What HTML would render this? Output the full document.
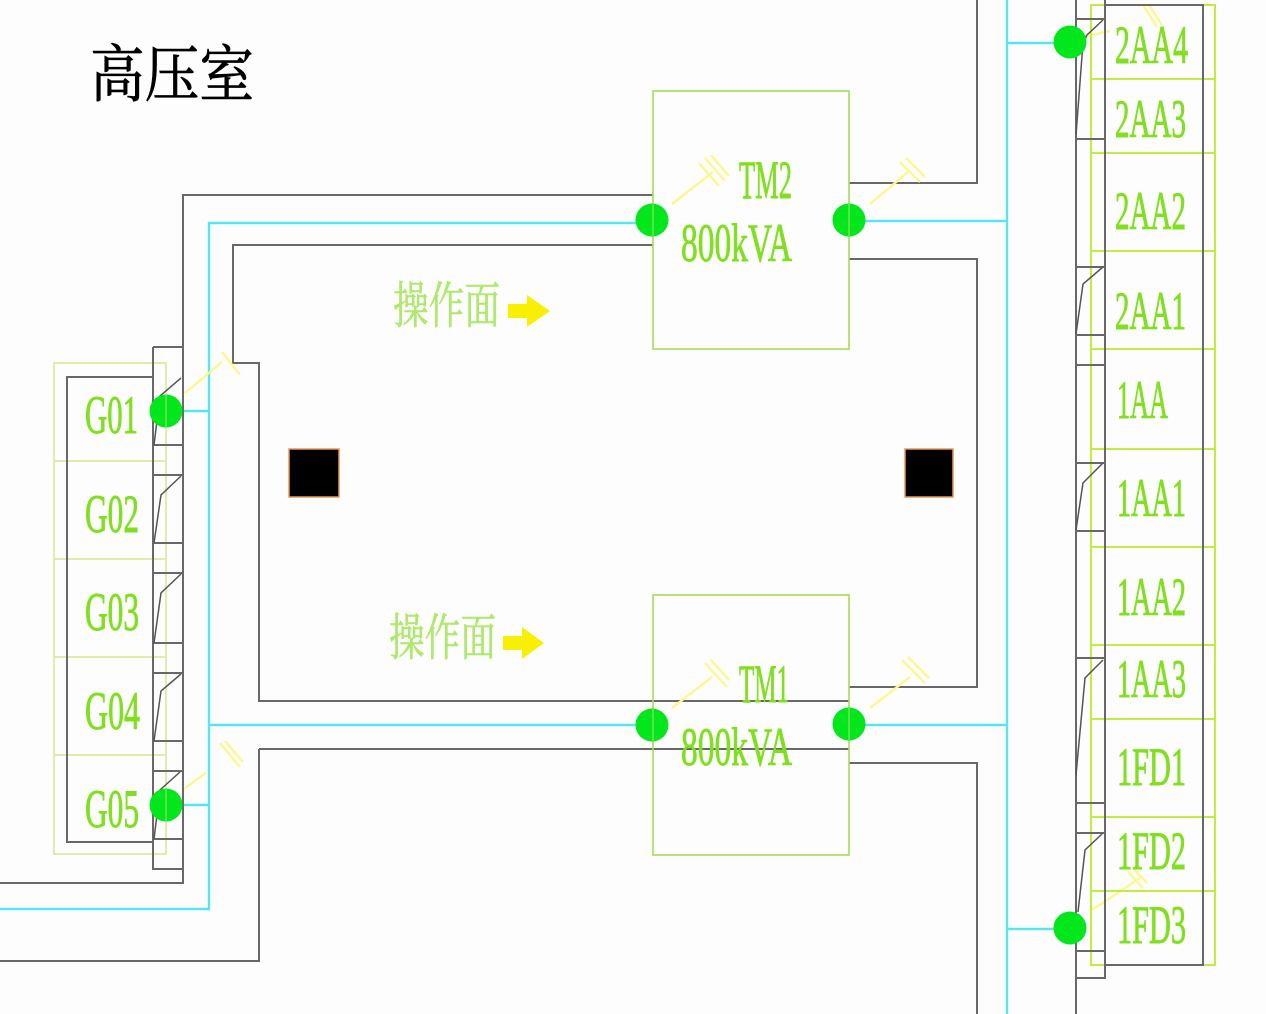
<!DOCTYPE html>
<html lang="zh">
<head>
<meta charset="utf-8">
<title>高压室</title>
<style>
html,body{margin:0;padding:0;background:#fdfdfd}
svg{display:block}
.g{fill:none;stroke:#686868;stroke-width:2}
.t{fill:none;stroke:#555;stroke-width:1.5}
.c{fill:none;stroke:#58e6ee;stroke-width:2.4}
.b{fill:none;stroke:#a8dc58;stroke-width:1.6}
.l{fill:none;stroke:#e2ebac;stroke-width:2}
.r{fill:none;stroke:#c2ec44;stroke-width:2}
.y{fill:none;stroke:#fcf890;stroke-width:2.4}
.d{fill:#02e61c}
.x{font-family:"Liberation Serif",serif;font-size:54px;fill:#80e020;stroke:#80e020;stroke-width:.9}
.o{font-family:"Liberation Serif","Noto Serif CJK SC",serif;font-size:50px;fill:#aee86c;stroke:#aee86c;stroke-width:.5}
</style>
</head>
<body>
<svg width="1266" height="1014" viewBox="0 0 1266 1014" xmlns="http://www.w3.org/2000/svg">
<rect width="1266" height="1014" fill="#fdfdfd"/>

<text x="90" y="96" font-family="'Liberation Serif','Noto Serif CJK SC',serif" font-size="62" fill="#000" stroke="#000" stroke-width=".7" textLength="164" lengthAdjust="spacingAndGlyphs">高压室</text>

<!-- gray routes -->
<path class="g" d="M0 883H183V195H653"/>
<path class="g" d="M653 245H233V363H259V701H849"/>
<path class="g" d="M259 749H849M259 749V961H0"/>
<path class="g" d="M849 183H977V0"/>
<path class="g" d="M849 259H977V687H849"/>
<path class="g" d="M849 763H977V1014"/>

<!-- cyan routes -->
<path class="c" d="M652 223H209V909H0"/>
<path class="c" d="M652 725H209"/>
<path class="c" d="M166 411H209M166 805H209"/>
<path class="c" d="M849 221H1007M849 725H1007"/>
<path class="c" d="M1007 0V1014M1007 43H1070M1007 929H1070"/>

<!-- yellow cable marks -->
<path class="y" d="M672 204L713 172M705 158L725 181M711 155L729 176M699 163L719 186"/>
<path class="y" d="M870 204L908 172M900 162L920 182M906 158L925 177"/>
<path class="y" d="M672 708L712 677M705 663L727 687M711 660L729 680"/>
<path class="y" d="M870 708L910 677M902 660L925 683M908 657L929 678"/>
<path class="y" d="M185 393L222 362M222 352L240 375"/>
<path class="y" d="M185 788L206 773M220 743L240 767M225 741L243 762"/>
<path class="y" d="M1088 36L1110 31M1143 5L1157 27M1149 5L1162 25"/>
<path class="y" d="M1092 910L1140 878M1128 872L1143 888M1133 868L1147 883"/>

<!-- left panel -->
<rect class="l" x="54" y="363" width="112" height="491"/>
<path class="l" d="M54 461H166M54 559H166M54 657H166M54 755H166"/>
<path class="g" d="M153 377H67V842H153"/>
<path class="g" d="M153 347H183M153 347V869H183M183 347V869"/>
<path class="g" d="M153 445H183M153 475H183M153 543H183M153 573H183M153 643H183M153 673H183M153 741H183M153 771H183M153 839H183"/>
<path class="t" d="M181 378L160 396L154 445"/>
<path class="t" d="M181 476L161 495L154 543"/>
<path class="t" d="M181 574L161 593L154 643"/>
<path class="t" d="M181 674L161 691L154 741"/>
<path class="t" d="M180 772L160 790L154 839"/>

<!-- transformers -->
<rect class="b" x="653" y="91" width="196" height="258"/>
<rect class="b" x="653" y="595" width="196" height="260"/>

<!-- right panel -->
<rect class="r" x="1091" y="5" width="124" height="960"/>
<path class="r" d="M1091 79H1215M1091 153H1215M1091 251H1215M1091 349H1215M1091 449H1215M1091 547H1215M1091 645H1215M1091 719H1215M1091 817H1215M1091 891H1215"/>
<path class="g" d="M1076 0V1014"/>
<path class="g" d="M1105 0V978H1076"/>
<path class="g" d="M1105 5H1203V965H1105"/>
<path class="g" d="M1076 19H1105M1076 139H1105M1076 267H1105M1076 335H1105M1076 365H1105M1076 463H1105M1076 531H1105M1076 658H1105M1076 803H1105M1076 833H1105M1076 951H1105"/>
<path class="t" d="M1103 20L1087 35L1083 43L1076 135"/>
<path class="t" d="M1103 267L1083 284L1076 334"/>
<path class="t" d="M1103 463L1083 483L1076 530"/>
<path class="t" d="M1103 660L1085 678L1076 775"/>
<path class="t" d="M1102 834L1085 850L1078 912"/>

<!-- columns -->
<rect x="289" y="449" width="50" height="48" fill="#000" stroke="#e8965a" stroke-width="1.5"/>
<rect x="905" y="449" width="48" height="48" fill="#000" stroke="#e8965a" stroke-width="1.5"/>

<!-- arrows -->
<path d="M508 304H527V295L550 311L527 327V318H508Z" fill="#f8f000"/>
<path d="M503 636H522V627L544 643L522 659V650H503Z" fill="#f8f000"/>

<!-- nodes -->
<circle class="d" cx="652" cy="220" r="16.5"/>
<circle class="d" cx="849" cy="220" r="16.5"/>
<circle class="d" cx="652" cy="725" r="16.5"/>
<circle class="d" cx="849" cy="724" r="16.5"/>
<circle class="d" cx="166" cy="411" r="16.5"/>
<circle class="d" cx="166" cy="805" r="16.5"/>
<circle class="d" cx="1070" cy="42" r="16.5"/>
<circle class="d" cx="1070" cy="928" r="16.5"/>
<path d="M166 395V427M166 789V821" stroke="#b4e070" stroke-width="1"/>
<path d="M653 204V236M849 204V236M653 709V741M849 708V740" stroke="#b4e070" stroke-width="1"/>

<!-- labels -->
<text class="o" x="393" y="323" textLength="107" lengthAdjust="spacingAndGlyphs">操作面</text>
<text class="o" x="389" y="655" textLength="107" lengthAdjust="spacingAndGlyphs">操作面</text>

<text class="x" x="739" y="198" textLength="53" lengthAdjust="spacingAndGlyphs">TM2</text>
<text class="x" x="681" y="261" textLength="111" lengthAdjust="spacingAndGlyphs">800kVA</text>
<text class="x" x="739" y="702" textLength="50" lengthAdjust="spacingAndGlyphs">TM1</text>
<text class="x" x="681" y="765" textLength="111" lengthAdjust="spacingAndGlyphs">800kVA</text>

<text class="x" x="85" y="433" textLength="53" lengthAdjust="spacingAndGlyphs">G01</text>
<text class="x" x="85" y="532" textLength="54" lengthAdjust="spacingAndGlyphs">G02</text>
<text class="x" x="85" y="630" textLength="54" lengthAdjust="spacingAndGlyphs">G03</text>
<text class="x" x="85" y="729" textLength="55" lengthAdjust="spacingAndGlyphs">G04</text>
<text class="x" x="85" y="827" textLength="54" lengthAdjust="spacingAndGlyphs">G05</text>

<text class="x" x="1115" y="63" textLength="73" lengthAdjust="spacingAndGlyphs">2AA4</text>
<text class="x" x="1115" y="137" textLength="71" lengthAdjust="spacingAndGlyphs">2AA3</text>
<text class="x" x="1115" y="229" textLength="71" lengthAdjust="spacingAndGlyphs">2AA2</text>
<text class="x" x="1115" y="329" textLength="71" lengthAdjust="spacingAndGlyphs">2AA1</text>
<text class="x" x="1117" y="418" textLength="51" lengthAdjust="spacingAndGlyphs">1AA</text>
<text class="x" x="1117" y="516" textLength="69" lengthAdjust="spacingAndGlyphs">1AA1</text>
<text class="x" x="1117" y="615" textLength="69" lengthAdjust="spacingAndGlyphs">1AA2</text>
<text class="x" x="1117" y="697" textLength="69" lengthAdjust="spacingAndGlyphs">1AA3</text>
<text class="x" x="1117" y="785" textLength="69" lengthAdjust="spacingAndGlyphs">1FD1</text>
<text class="x" x="1117" y="869" textLength="69" lengthAdjust="spacingAndGlyphs">1FD2</text>
<text class="x" x="1117" y="943" textLength="69" lengthAdjust="spacingAndGlyphs">1FD3</text>
</svg>
</body>
</html>
